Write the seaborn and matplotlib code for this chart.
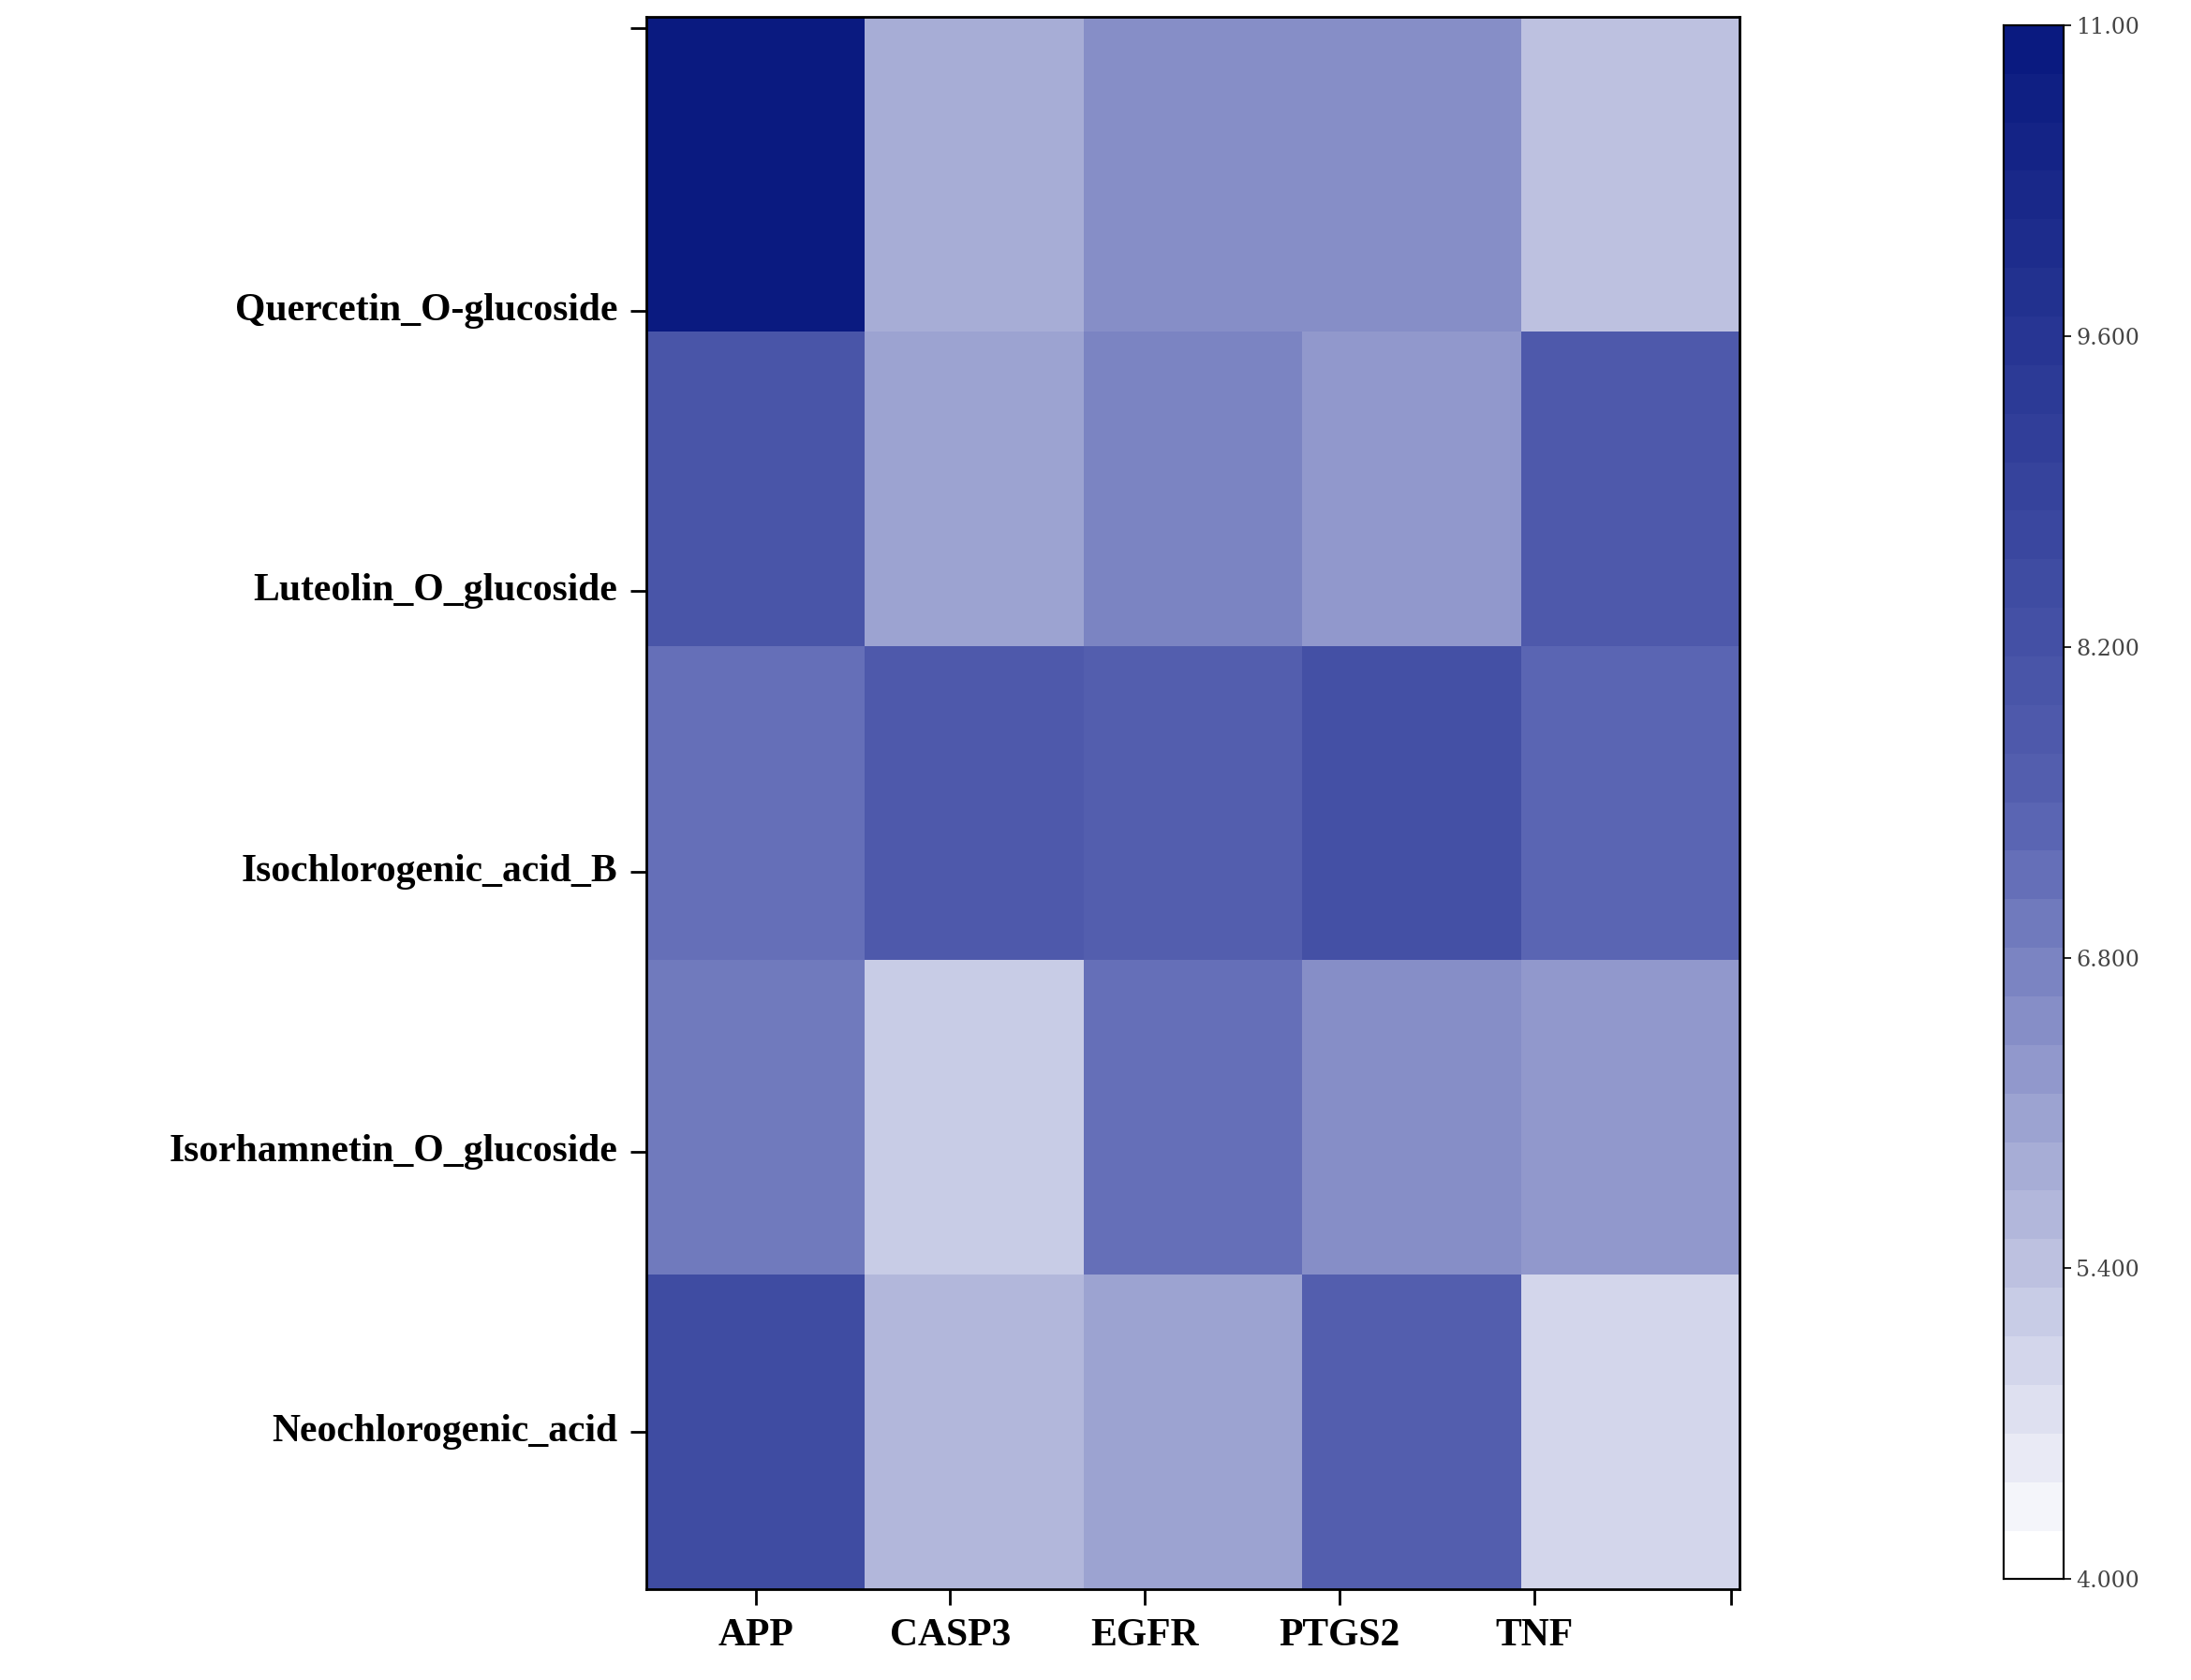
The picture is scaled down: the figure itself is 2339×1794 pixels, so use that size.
import matplotlib
matplotlib.use("Agg")
import matplotlib.pyplot as plt
import seaborn as sns
import numpy as np
import pandas as pd
from matplotlib.colors import LinearSegmentedColormap

genes = ["APP", "CASP3", "EGFR", "PTGS2", "TNF"]
compounds = ["Quercetin_O-glucoside", "Luteolin_O_glucoside", "Isochlorogenic_acid_B",
             "Isorhamnetin_O_glucoside", "Neochlorogenic_acid"]
quercetin = [11.0, 5.8, 6.5, 6.5, 5.4]
luteolin = [8.0, 6.0, 6.7, 6.2, 7.8]
isochlorogenic = [7.2, 7.8, 7.5, 8.3, 7.3]
isorhamnetin = [7.0, 5.3, 7.1, 6.5, 6.3]
neochlorogenic = [8.5, 5.6, 6.1, 7.5, 4.9]
cbar_ticks = [4.0, 5.4, 6.8, 8.2, 9.6, 11.0]
cbar_labels = ["4.000", "5.400", "6.800", "8.200", "9.600", "11.00"]

df = pd.DataFrame([quercetin, luteolin, isochlorogenic, isorhamnetin, neochlorogenic],
                  index=compounds, columns=genes)

cmap = LinearSegmentedColormap.from_list("b", ["#ffffff", "#5560b0", "#0a1a80"], N=32)

fig = plt.figure(figsize=(23.39, 17.94), dpi=100)
ax = fig.add_axes([0.295, 0.054, 0.499, 0.936])
cax = fig.add_axes([0.9145, 0.06, 0.0274, 0.925])
sns.heatmap(df, ax=ax, cmap=cmap, vmin=4, vmax=11, cbar_ax=cax)

for s in ax.spines.values():
    s.set_visible(True); s.set_linewidth(2); s.set_color("black")
ax.set_yticks([0.036, 0.935, 1.826, 2.72, 3.61, 4.50])
ax.set_yticklabels([""] + compounds, rotation=0)
ax.set_xticks([0.5, 1.39, 2.28, 3.17, 4.06, 4.96])
ax.set_xticklabels(genes + [""])
ax.tick_params(axis="both", length=12, width=2, pad=10)
for t in ax.get_xticklabels() + ax.get_yticklabels():
    t.set_fontfamily("Liberation Serif"); t.set_fontweight("bold"); t.set_fontsize(30)
ax.set_xlabel(""); ax.set_ylabel("")

cax.set_yticks(cbar_ticks)
cax.set_yticklabels(cbar_labels)
cax.tick_params(length=6, width=1.2, labelsize=17)
for t in cax.get_yticklabels():
    t.set_fontfamily("DejaVu Serif"); t.set_color("#444444")
for s in cax.spines.values():
    s.set_visible(True); s.set_linewidth(1.5)

fig.savefig("out.png", dpi=100)
